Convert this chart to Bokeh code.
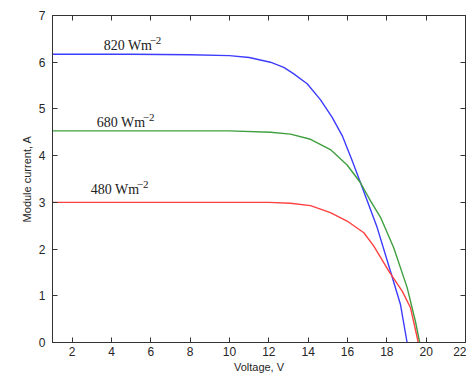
from bokeh.plotting import figure
from bokeh.models import LinearAxis, FixedTicker, Range1d, Label
from bokeh.embed import file_html
from bokeh.resources import INLINE

# ---- data ----
volt_820 = [1, 5, 8, 10, 11, 12.08, 12.76, 13.27, 13.95, 14.62, 15.22, 15.73, 16.24, 16.66, 17.51, 18.18, 18.69, 19.03]
curr_820 = [6.17, 6.17, 6.16, 6.14, 6.10, 6.00, 5.89, 5.75, 5.54, 5.20, 4.82, 4.43, 3.89, 3.42, 2.46, 1.53, 0.82, 0.0]

volt_680 = [1, 10, 12.08, 13.1, 14.12, 15.13, 15.98, 16.66, 17.17, 17.68, 18.35, 19.03, 19.45, 19.67]
curr_680 = [4.53, 4.53, 4.50, 4.46, 4.35, 4.13, 3.80, 3.42, 3.03, 2.68, 2.03, 1.18, 0.46, 0.0]

volt_480 = [1, 12, 13.1, 14.12, 15.13, 15.98, 16.83, 17.33, 18.1, 18.78, 19.2, 19.6]
curr_480 = [3.00, 3.00, 2.98, 2.93, 2.78, 2.60, 2.35, 2.07, 1.53, 1.10, 0.75, 0.0]

series_labels = ["820 Wm", "680 Wm", "480 Wm"]
label_x = [3.6, 3.25, 2.95]
label_y = [6.36, 4.71, 3.28]
colors = ["#3c3cff", "#3f9f3f", "#ff4040"]

x_ticks = [2, 4, 6, 8, 10, 12, 14, 16, 18, 20, 22]
y_ticks = [0, 1, 2, 3, 4, 5, 6, 7]

FONT = "Liberation Sans"
TXT = "#262626"

p = figure(width=466, height=375, output_backend="svg", toolbar_location=None,
           x_range=Range1d(1, 22), y_range=Range1d(0, 7),
           min_border_left=52, min_border_top=15, min_border_right=1, min_border_bottom=33)
p.grid.visible = False
p.outline_line_color = "#333333"
p.outline_line_width = 1
p.background_fill_color = "white"
p.border_fill_color = "white"

for ax, ticks in ((p.xaxis[0], x_ticks), (p.yaxis[0], y_ticks)):
    ax.ticker = FixedTicker(ticks=ticks)
    ax.major_tick_in = 5
    ax.major_tick_out = 0
    ax.minor_tick_line_color = None
    ax.axis_line_color = "#333333"
    ax.major_tick_line_color = "#333333"
    ax.major_label_text_font = FONT
    ax.major_label_text_font_size = "12px"
    ax.major_label_text_color = TXT
    ax.axis_label_text_font = FONT
    ax.axis_label_text_font_size = "11px"
    ax.axis_label_text_font_style = "normal"
    ax.axis_label_text_color = TXT

p.xaxis[0].axis_label = "Voltage, V"
p.xaxis[0].major_label_standoff = 4
p.xaxis[0].axis_label_standoff = 2
p.yaxis[0].axis_label = "Module current, A"
p.yaxis[0].major_label_standoff = 7
p.yaxis[0].axis_label_standoff = 3

# box ticks on top and right (MATLAB style), labels left empty
def box_axis(ticks):
    return LinearAxis(ticker=FixedTicker(ticks=ticks), major_tick_in=5, major_tick_out=0,
                      minor_tick_line_color=None,
                      major_label_overrides={t: "" for t in ticks},
                      major_label_text_color=None,
                      major_label_standoff=0, axis_line_color="#333333",
                      major_tick_line_color="#333333")

p.add_layout(box_axis(x_ticks), "above")
p.add_layout(box_axis(y_ticks), "right")

for vx, iy, c in ((volt_820, curr_820, colors[0]),
                  (volt_680, curr_680, colors[1]),
                  (volt_480, curr_480, colors[2])):
    p.line(vx, iy, line_color=c, line_width=1.4, line_join="round")

for txt, lx, ly in zip(series_labels, label_x, label_y):
    p.add_layout(Label(x=lx, y=ly, text=txt, text_font="Liberation Serif",
                       text_font_size="14px", text_color="#222222",
                       text_baseline="alphabetic"))
    p.add_layout(Label(x=lx, y=ly, x_offset=46, y_offset=5, text="\u22122",
                       text_font="Liberation Serif", text_font_size="11px",
                       text_color="#222222", text_baseline="alphabetic"))

open("out.html", "w").write(file_html(p, INLINE))
